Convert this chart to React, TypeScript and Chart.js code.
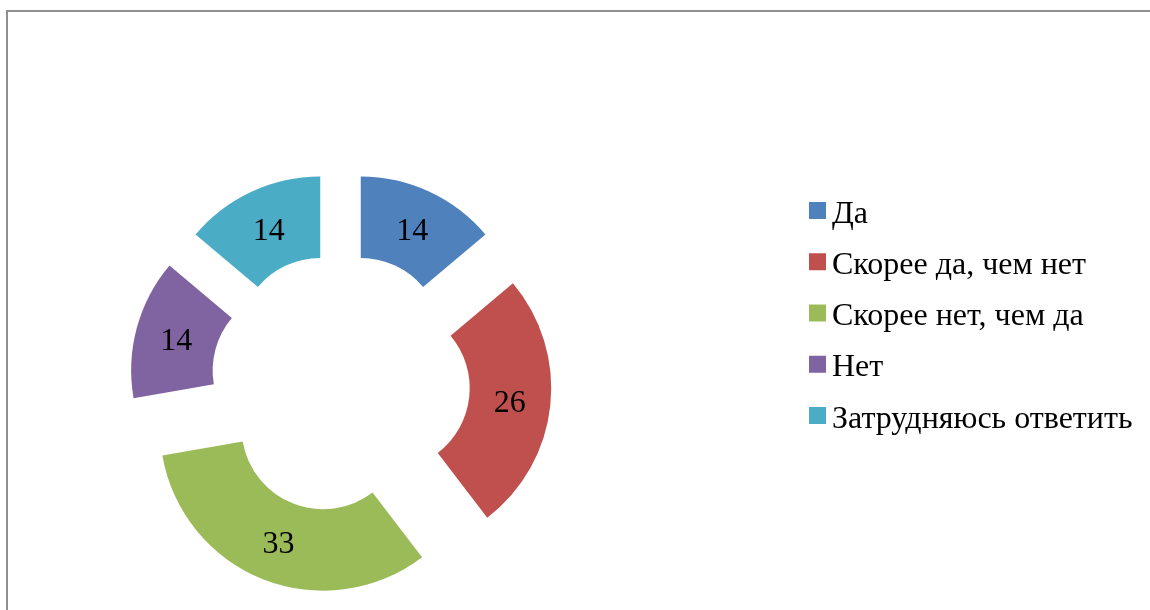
import React, { useEffect, useRef } from "react";
import { Chart, registerables } from "chart.js";

Chart.register(...registerables);

const categories = ["Да", "Скорее да, чем нет", "Скорее нет, чем да", "Нет", "Затрудняюсь ответить"];
const values = [14, 26, 33, 14, 14];
const colors = ["#4F81BD", "#C0504D", "#9BBB59", "#8064A2", "#4BACC6"];

const FONT = '"Liberation Serif", "Times New Roman", serif';
const EXPLODE = 48;

const framePlugin = {
  id: "frame",
  beforeDraw(chart: any) {
    const ctx = chart.ctx;
    ctx.save();
    ctx.fillStyle = "#ffffff";
    ctx.fillRect(0, 0, chart.width, chart.height);
    ctx.strokeStyle = "#8f8f8f";
    ctx.lineWidth = 2;
    ctx.beginPath();
    ctx.moveTo(7, chart.height + 2);
    ctx.lineTo(7, 11);
    ctx.lineTo(chart.width + 2, 11);
    ctx.stroke();
    ctx.restore();
  },
};

const explodePlugin = {
  id: "explode",
  beforeDatasetDraw(chart: any, args: any) {
    const ctx = chart.ctx;
    const meta = args.meta;
    meta.data.forEach((arc: any) => {
      const { startAngle, endAngle } = arc.getProps(["startAngle", "endAngle"], true);
      const mid = (startAngle + endAngle) / 2;
      ctx.save();
      ctx.translate(Math.cos(mid) * EXPLODE, Math.sin(mid) * EXPLODE);
      arc.draw(ctx, chart.chartArea);
      ctx.restore();
    });
    return false;
  },
  afterDatasetsDraw(chart: any) {
    const ctx = chart.ctx;
    const meta = chart.getDatasetMeta(0);
    const data = chart.data.datasets[0].data;
    ctx.save();
    ctx.font = `32px ${FONT}`;
    ctx.fillStyle = "#000000";
    ctx.textAlign = "center";
    ctx.textBaseline = "alphabetic";
    meta.data.forEach((arc: any, i: number) => {
      const { x, y, startAngle, endAngle, innerRadius, outerRadius } = arc.getProps(
        ["x", "y", "startAngle", "endAngle", "innerRadius", "outerRadius"],
        true
      );
      const mid = (startAngle + endAngle) / 2;
      const r = EXPLODE + (innerRadius + outerRadius) / 2;
      const cx = x + Math.cos(mid) * r;
      const cy = y + Math.sin(mid) * r;
      ctx.fillText(String(data[i]), cx, cy + 11);
    });
    ctx.restore();
  },
};

const legendPlugin = {
  id: "customLegend",
  afterDraw(chart: any) {
    const ctx = chart.ctx;
    const labels = chart.data.labels;
    const bg = chart.data.datasets[0].backgroundColor;
    const x0 = 809;
    const y0 = 210.5;
    const step = 51.25;
    const box = 17;
    ctx.save();
    ctx.font = `32px ${FONT}`;
    ctx.textAlign = "left";
    ctx.textBaseline = "alphabetic";
    labels.forEach((lab: string, i: number) => {
      const cy = y0 + i * step;
      ctx.fillStyle = bg[i];
      ctx.fillRect(x0, cy - box / 2, box, box);
      ctx.fillStyle = "#000000";
      ctx.fillText(lab, x0 + box + 6, cy + 12);
    });
    ctx.restore();
  },
};

export default function App() {
  const ref = useRef<HTMLCanvasElement | null>(null);
  useEffect(() => {
    if (!ref.current) return;
    const chart = new Chart(ref.current, {
      type: "doughnut",
      data: {
        labels: categories,
        datasets: [
          {
            data: values,
            backgroundColor: colors,
            borderWidth: 0,
            offset: 0,
          },
        ],
      },
      options: {
        responsive: false,
        animation: false,
        radius: 163,
        cutout: "50%",
        rotation: 0,
        layout: { padding: { left: 0, right: 469, top: 156, bottom: 0 } },
        plugins: {
          legend: { display: false },
          tooltip: { enabled: false },
        },
      } as any,
      plugins: [framePlugin, explodePlugin, legendPlugin],
    });
    return () => chart.destroy();
  }, []);
  return (
    <div style={{ position: "fixed", left: 0, top: 0, width: 1150, height: 610 }}>
      <canvas ref={ref} width={1150} height={610} style={{ display: "block" }} />
    </div>
  );
}
